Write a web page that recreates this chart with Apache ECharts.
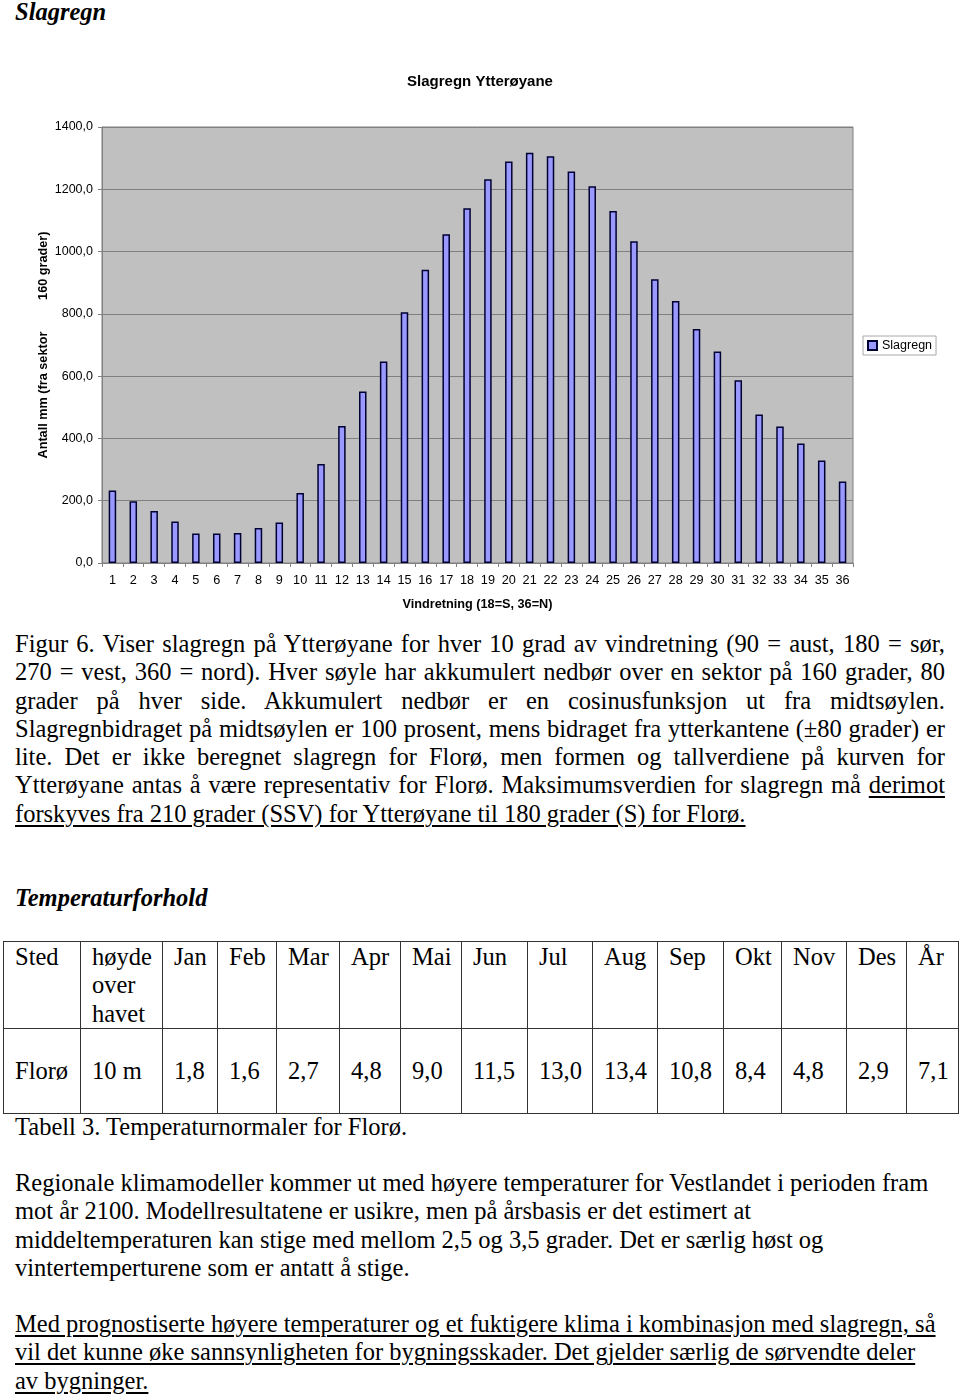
<!DOCTYPE html>
<html>
<head>
<meta charset="utf-8">
<script src="https://cdn.jsdelivr.net/npm/echarts@6/dist/echarts.min.js"></script>
<style>
  html, body { margin: 0; padding: 0; background: #fff; }
  body { width: 960px; height: 1397px; position: relative; overflow: hidden;
         font-family: "Liberation Serif", "Times New Roman", serif; color: #000; }
  #chart { position: absolute; left: 0; top: 0; width: 960px; height: 625px; }
  .abs { position: absolute; }
  .h { font-weight: bold; font-style: italic; font-size: 24.5px; line-height: 28.3px; white-space: nowrap; }
  .txt { font-size: 24.5px; line-height: 28.3px; }
  .just { width: 930px; text-align: justify; text-align-last: justify; }
  .nw { white-space: nowrap; }
  .u { text-decoration: underline; text-decoration-thickness: 1.5px; text-underline-offset: 3px; }
  table { position: absolute; left: 3px; top: 941px; border-collapse: collapse; table-layout: fixed;
          font-size: 24.5px; line-height: 28.3px; }
  td { border: 1.5px solid #333; padding: 0 0 0 11px; vertical-align: top; white-space: nowrap; }
  tr.hd td { height: 84px; padding-top: 1px; }
  tr.dt td { height: 84px; vertical-align: middle; }
</style>
</head>
<body>
<div class="abs h" style="left:15px; top:-2px;">Slagregn</div>
<div id="chart"></div>

<div class="abs txt" style="left:15px; top:630px;">
  <div class="just">Figur 6. Viser slagregn på Ytterøyane for hver 10 grad av vindretning (90 = aust, 180 = sør,</div>
  <div class="just">270 = vest, 360 = nord). Hver søyle har akkumulert nedbør over en sektor på 160 grader, 80</div>
  <div class="just">grader på hver side. Akkumulert nedbør er en cosinusfunksjon ut fra midtsøylen.</div>
  <div class="just">Slagregnbidraget på midtsøylen er 100 prosent, mens bidraget fra ytterkantene (±80 grader) er</div>
  <div class="just">lite. Det er ikke beregnet slagregn for Florø, men formen og tallverdiene på kurven for</div>
  <div class="just">Ytterøyane antas å være representativ for Florø. Maksimumsverdien for slagregn må <span class="u">derimot</span></div>
  <div class="nw"><span class="u">forskyves fra 210 grader (SSV) for Ytterøyane til 180 grader (S) for Florø.</span></div>
</div>

<div class="abs h" style="left:15px; top:884px;">Temperaturforhold</div>

<table id="tbl"></table>

<div class="abs txt nw" style="left:15px; top:1113px;">Tabell 3. Temperaturnormaler for Florø.</div>

<div class="abs txt nw" style="left:15px; top:1169px;">
  <div>Regionale klimamodeller kommer ut med høyere temperaturer for Vestlandet i perioden fram</div>
  <div>mot år 2100. Modellresultatene er usikre, men på årsbasis er det estimert at</div>
  <div>middeltemperaturen kan stige med mellom 2,5 og 3,5 grader. Det er særlig høst og</div>
  <div>vintertemperturene som er antatt å stige.</div>
</div>

<div class="abs txt nw" style="left:15px; top:1310px;">
  <div><span class="u">Med prognostiserte høyere temperaturer og et fuktigere klima i kombinasjon med slagregn, så</span></div>
  <div><span class="u">vil det kunne øke sannsynligheten for bygningsskader. Det gjelder særlig de sørvendte deler</span></div>
  <div><span class="u">av bygninger.</span></div>
</div>

<script>
// ---- Chart data ----
const sectors = ['1','2','3','4','5','6','7','8','9','10','11','12','13','14','15','16','17','18',
                 '19','20','21','22','23','24','25','26','27','28','29','30','31','32','33','34','35','36'];
const slagregn = [233, 198, 167, 133, 95, 95, 96, 112, 130, 225, 318, 440,
                  551, 647, 805, 942, 1056, 1139, 1232, 1289, 1317, 1306, 1257, 1210,
                  1130, 1033, 911, 841, 751, 679, 587, 477, 438, 384, 329, 262];
const yMin = 0, yMax = 1400, yStep = 200;

// ---- Table data ----
const tableHeader = ['Sted', 'høyde<br>over<br>havet', 'Jan', 'Feb', 'Mar', 'Apr', 'Mai', 'Jun', 'Jul', 'Aug', 'Sep', 'Okt', 'Nov', 'Des', 'År'];
const tableRow = ['Florø', '10 m', '1,8', '1,6', '2,7', '4,8', '9,0', '11,5', '13,0', '13,4', '10,8', '8,4', '4,8', '2,9', '7,1'];
const colWidths = [77, 82, 55, 59, 63, 61, 61, 66, 65, 65, 66, 58, 65, 60, 52];

// build table
(function () {
  const t = document.getElementById('tbl');
  let html = '<colgroup>' + colWidths.map(w => '<col style="width:' + w + 'px">').join('') + '</colgroup>';
  html += '<tr class="hd">' + tableHeader.map(h => '<td>' + h + '</td>').join('') + '</tr>';
  html += '<tr class="dt">' + tableRow.map(v => '<td>' + v + '</td>').join('') + '</tr>';
  t.innerHTML = html;
})();

const sans = '"Liberation Sans", Arial, sans-serif';
const chart = echarts.init(document.getElementById('chart'), null, { renderer: 'canvas' });
chart.setOption({
  animation: false,
  textStyle: { fontFamily: sans, color: '#000' },
  title: {
    text: 'Slagregn Ytterøyane',
    left: 'center', top: 74, padding: 0,
    textStyle: { fontFamily: sans, fontSize: 15, fontWeight: 'bold', color: '#000' }
  },
  legend: {
    data: ['Slagregn'],
    left: 863, top: 336,
    padding: [3, 4, 3, 4],
    borderColor: '#a8a8a8', borderWidth: 1,
    itemWidth: 9, itemHeight: 9,
    icon: 'rect',
    textStyle: { fontFamily: sans, fontSize: 12.5, color: '#000' }
  },
  grid: {
    left: 102, top: 127, width: 751, height: 436,
    show: true, backgroundColor: '#C0C0C0', borderColor: '#808080', borderWidth: 1
  },
  xAxis: {
    type: 'category',
    data: sectors,
    name: 'Vindretning (18=S, 36=N)',
    nameLocation: 'middle', nameGap: 35, nameMoveOverlap: false,
    nameTextStyle: { fontFamily: sans, fontSize: 12.7, fontWeight: 'bold', color: '#000' },
    axisLine: { show: true, lineStyle: { color: '#808080', width: 1 } },
    axisTick: { show: true, length: 4, lineStyle: { color: '#808080' } },
    axisLabel: { fontFamily: sans, fontSize: 12.7, color: '#000', margin: 11, interval: 0 },
    splitLine: { show: false }
  },
  yAxis: {
    type: 'value',
    min: yMin, max: yMax, interval: yStep,
    name: 'Antall mm (fra sektor         160 grader)',
    nameLocation: 'middle', nameGap: 52, nameMoveOverlap: false,
    nameTextStyle: { fontFamily: sans, fontSize: 12.7, fontWeight: 'bold', color: '#000' },
    axisLine: { show: true, lineStyle: { color: '#808080', width: 1 } },
    axisTick: { show: true, length: 4, lineStyle: { color: '#808080' } },
    axisLabel: {
      fontFamily: sans, fontSize: 12.5, color: '#000', margin: 9,
      formatter: v => v.toFixed(1).replace('.', ',')
    },
    splitLine: { show: true, lineStyle: { color: '#808080', width: 1 } }
  },
  series: [{
    name: 'Slagregn',
    type: 'bar',
    data: slagregn,
    barWidth: 7.5,
    itemStyle: { color: '#9999FF', borderColor: '#000033', borderWidth: 1.5 }
  }]
});
</script>
</body>
</html>
